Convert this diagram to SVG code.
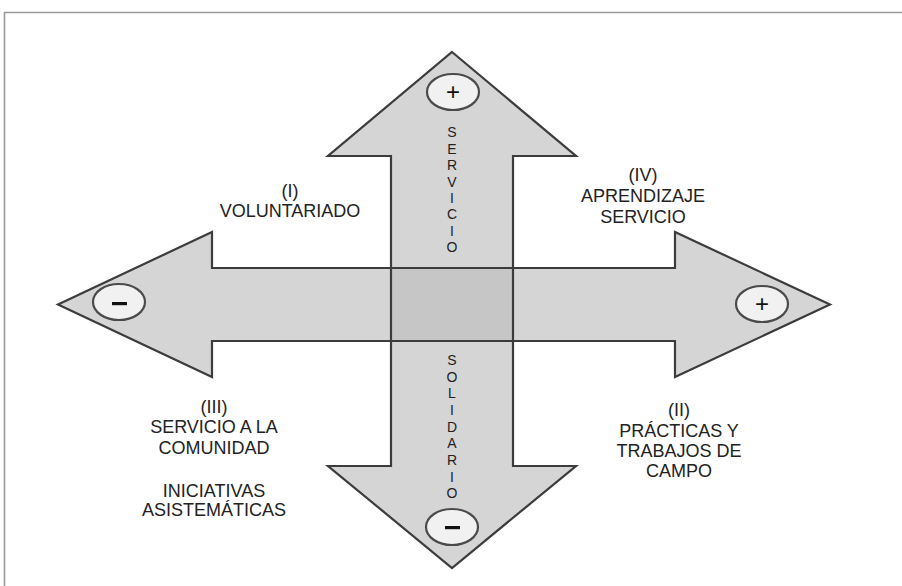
<svg xmlns="http://www.w3.org/2000/svg" width="902" height="586" viewBox="0 0 902 586">
<style>
.fill{fill:#d5d5d5;stroke:none}
.out{fill:none;stroke:#3c3c3c;stroke-width:2.2;stroke-linejoin:miter}
.lab{font-family:"Liberation Sans",Arial,sans-serif;font-size:18px;fill:#222;text-anchor:middle}
.vl{font-family:"Liberation Sans",Arial,sans-serif;font-size:14px;fill:#222;text-anchor:middle}
.badge{fill:#f1f1f1;stroke:#4a4a4a;stroke-width:2.2}
.sign{font-family:"Liberation Sans",Arial,sans-serif;font-size:24px;fill:#111;text-anchor:middle}
</style>
<rect x="0" y="0" width="902" height="586" fill="#fff"/>
<path d="M4.5 586 V12.5 H902" fill="none" stroke="#9a9a9a" stroke-width="1.6"/>

<g id="arrows">
  <polygon class="fill" points="58,304.5 212,232 212,268 675,268 675,232 830,304.5 675,377 675,341 212,341 212,377"/>
  <polygon class="fill" points="452,52 576,156 513,156 513,466 576,466 452,568 328,466 391,466 391,156 328,156"/>
  <rect x="391" y="268" width="122" height="73" fill="#c6c6c6"/>
  <polygon id="arrow-horizontal" class="out" points="58,304.5 212,232 212,268 675,268 675,232 830,304.5 675,377 675,341 212,341 212,377"/>
  <polygon id="arrow-vertical" class="out" points="452,52 576,156 513,156 513,466 576,466 452,568 328,466 391,466 391,156 328,156"/>
</g>

<g id="badge-top">
  <ellipse class="badge" cx="453" cy="92" rx="26" ry="18"/>
  <text class="sign" x="453" y="100">+</text>
</g>
<g id="badge-left">
  <ellipse class="badge" cx="119" cy="302" rx="26" ry="18"/>
  <rect x="112" y="302" width="15" height="3.2" fill="#111"/>
</g>
<g id="badge-right">
  <ellipse class="badge" cx="762" cy="304" rx="26" ry="18"/>
  <text class="sign" x="762" y="312">+</text>
</g>
<g id="badge-bottom">
  <ellipse class="badge" cx="452" cy="527" rx="26" ry="18"/>
  <rect x="445" y="526" width="15" height="3.2" fill="#111"/>
</g>

<g id="label-servicio">
  <text class="vl" x="452" y="137"><tspan x="452" y="137">S</tspan><tspan x="452" y="153.5">E</tspan><tspan x="452" y="170">R</tspan><tspan x="452" y="186.5">V</tspan><tspan x="452" y="203">I</tspan><tspan x="452" y="219">C</tspan><tspan x="452" y="235.5">I</tspan><tspan x="452" y="252">O</tspan></text>
</g>
<g id="label-solidario">
  <text class="vl" x="452" y="365"><tspan x="452" y="365">S</tspan><tspan x="452" y="381.7">O</tspan><tspan x="452" y="398.3">L</tspan><tspan x="452" y="415">I</tspan><tspan x="452" y="431.7">D</tspan><tspan x="452" y="448.3">A</tspan><tspan x="452" y="465">R</tspan><tspan x="452" y="481.7">I</tspan><tspan x="452" y="498.3">O</tspan></text>
</g>

<g id="quadrant-I">
  <text class="lab" x="290" y="197">(I)</text>
  <text class="lab" x="290" y="216.5">VOLUNTARIADO</text>
</g>
<g id="quadrant-IV">
  <text class="lab" x="643" y="180.5">(IV)</text>
  <text class="lab" x="643" y="201.5">APRENDIZAJE</text>
  <text class="lab" x="643" y="222.5">SERVICIO</text>
</g>
<g id="quadrant-III">
  <text class="lab" x="214" y="413">(III)</text>
  <text class="lab" x="214" y="433">SERVICIO A LA</text>
  <text class="lab" x="214" y="454">COMUNIDAD</text>
  <text class="lab" x="214" y="497">INICIATIVAS</text>
  <text class="lab" x="214" y="516">ASISTEMÁTICAS</text>
</g>
<g id="quadrant-II">
  <text class="lab" x="679" y="416">(II)</text>
  <text class="lab" x="679" y="437">PRÁCTICAS Y</text>
  <text class="lab" x="679" y="457">TRABAJOS DE</text>
  <text class="lab" x="679" y="477">CAMPO</text>
</g>
</svg>
